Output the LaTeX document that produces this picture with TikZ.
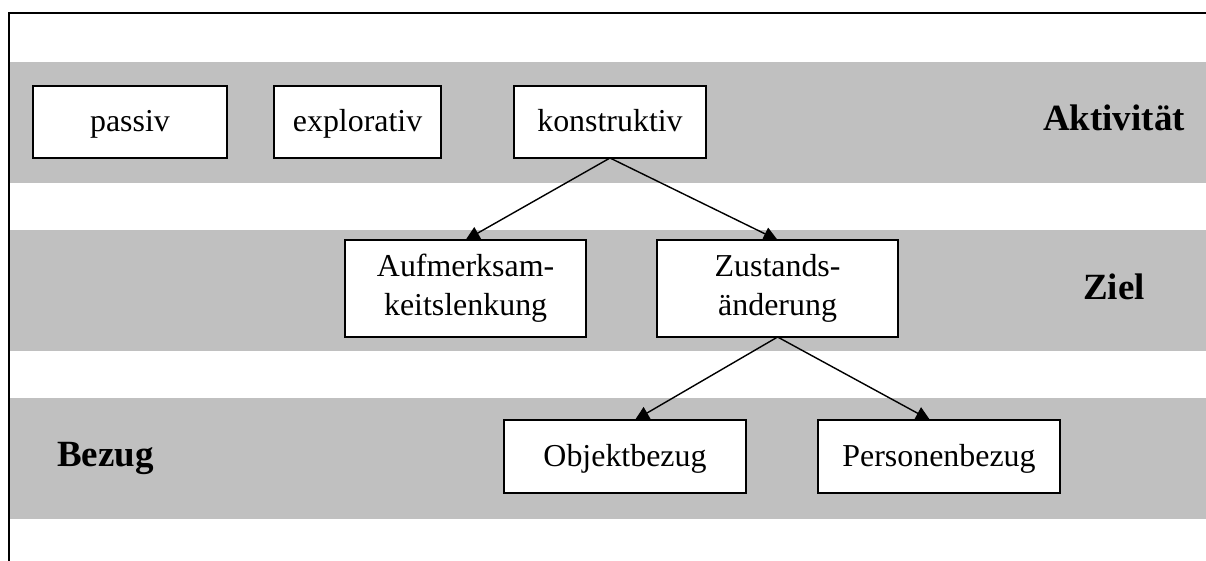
\documentclass[tikz,border=0pt]{standalone}
\usepackage{fontspec}
\setmainfont{Liberation Serif}
\usetikzlibrary{arrows.meta}
\definecolor{bandgray}{HTML}{C0C0C0}

\begin{document}
\begin{tikzpicture}[
    band/.style={fill=bandgray, draw=none},
    box/.style={rectangle, draw, fill=white, line width=1.2pt, inner sep=0pt, outer sep=0pt, align=center, font=\fontsize{22.7}{27.5}\selectfont},
    onebox/.style={box, text height=0.66cm, text depth=0.16cm},
    level/.style={anchor=base, font=\fontsize{26.3}{30}\selectfont\bfseries},
    arrow/.style={-{Triangle[length=0.35cm, width=0.34cm]}, line width=1pt}
]
\useasboundingbox (0,0) rectangle (30.15,14.025);

% bands
\fill[band] (0.225,9.45) rectangle (30.15,12.475);
\fill[band] (0.225,5.25) rectangle (30.15,8.275);
\fill[band] (0.225,1.05) rectangle (30.15,4.075);

% frame
\draw[line width=1.4pt] (30.15,13.7) -- (0.225,13.7) -- (0.225,0);

\node[onebox, minimum width=4.85cm, minimum height=1.8cm] (passiv) at (3.25,10.975) {passiv};
\node[onebox, minimum width=4.175cm, minimum height=1.8cm] (explor) at (8.94,10.975) {explorativ};
\node[onebox, minimum width=4.8cm, minimum height=1.8cm] (konstr) at (15.25,10.975) {konstruktiv};

\node[box, minimum width=6.025cm, minimum height=2.425cm] (aufm) at (11.64,6.8125) {Aufmerksam-\\keitslenkung};
\node[box, minimum width=6.025cm, minimum height=2.425cm] (zust) at (19.44,6.8125) {Zustands-\\änderung};

\node[onebox, minimum width=6.05cm, minimum height=1.825cm] (objekt) at (15.625,2.6125) {Objektbezug};
\node[onebox, minimum width=6.05cm, minimum height=1.825cm] (person) at (23.475,2.6125) {Personenbezug};

\node[level] (aktiv) at (27.85,10.75) {Aktivität};
\node[level] (ziel) at (27.85,6.525) {Ziel};
\node[level] (bezug) at (2.64,2.35) {Bezug};

\draw[arrow] (konstr.south) -- (aufm.north);
\draw[arrow] (konstr.south) -- (zust.north);
\draw[arrow] (zust.south) -- ([xshift=0.25cm]objekt.north);
\draw[arrow] (zust.south) -- ([xshift=-0.225cm]person.north);
\end{tikzpicture}
\end{document}
